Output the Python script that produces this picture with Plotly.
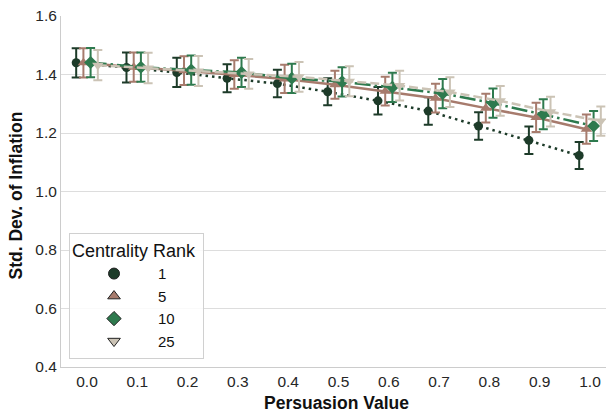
import plotly.graph_objects as go

persuasion = [0.0, 0.1, 0.2, 0.3, 0.4, 0.5, 0.6, 0.7, 0.8, 0.9, 1.0]
tick_labels = ["0.0", "0.1", "0.2", "0.3", "0.4", "0.5", "0.6", "0.7", "0.8", "0.9", "1.0"]
y_ticks = [0.4, 0.6, 0.8, 1.0, 1.2, 1.4, 1.6]
y_tick_labels = ["0.4", "0.6", "0.8", "1.0", "1.2", "1.4", "1.6"]

ranks = ["1", "5", "10", "25"]
rank1 = [1.440, 1.424, 1.407, 1.387, 1.369, 1.341, 1.310, 1.275, 1.224, 1.175, 1.123]
rank5 = [1.440, 1.425, 1.413, 1.400, 1.385, 1.365, 1.343, 1.319, 1.285, 1.253, 1.213]
rank10 = [1.441, 1.425, 1.415, 1.407, 1.387, 1.375, 1.356, 1.335, 1.302, 1.264, 1.224]
rank25 = [1.432, 1.422, 1.412, 1.402, 1.392, 1.377, 1.362, 1.340, 1.310, 1.273, 1.241]

err1 = [0.050, 0.051, 0.050, 0.048, 0.047, 0.046, 0.047, 0.047, 0.047, 0.047, 0.046]
err5 = [0.050, 0.050, 0.049, 0.049, 0.048, 0.048, 0.049, 0.049, 0.049, 0.050, 0.050]
err10 = [0.050, 0.050, 0.050, 0.050, 0.050, 0.050, 0.050, 0.050, 0.050, 0.051, 0.051]
err25 = [0.052, 0.052, 0.051, 0.051, 0.051, 0.051, 0.051, 0.051, 0.051, 0.051, 0.050]

series = [rank1, rank5, rank10, rank25]
errors = [err1, err5, err10, err25]
colors = ["#1d3b29", "#a77b6d", "#2e7a4e", "#cbc3b5"]
symbols = ["circle", "triangle-up", "diamond", "triangle-down"]
dashes = ["2.5px,4px", "solid", "16px,4px,2.5px,4px", "9px,4px"]
dodge = [-0.0215, -0.00715, 0.00715, 0.0215]
msize = [9, 10, 10, 10]

fig = go.Figure()
for i, name in enumerate(ranks):
    xs = [p + dodge[i] for p in persuasion]
    fig.add_trace(go.Scatter(
        x=xs, y=series[i], mode="lines+markers", name=name, showlegend=False,
        line=dict(color=colors[i], width=2.5, dash=dashes[i]),
        marker=dict(color=colors[i], size=msize[i], symbol=symbols[i], line=dict(width=0)),
        error_y=dict(type="data", array=errors[i], color=colors[i], thickness=2, width=4.5),
    ))
for i, name in enumerate(ranks):
    fig.add_trace(go.Scatter(
        x=[None], y=[None], mode="markers", name=name, showlegend=True,
        marker=dict(color=colors[i], size=11, symbol=symbols[i], line=dict(width=1, color="#222222")),
    ))

axis_font = dict(family="Liberation Sans, Arial, sans-serif", size=15.5, color="#262626")
title_font = dict(family="Liberation Sans, Arial, sans-serif", size=17.5, color="#111111")
legend_title_font = dict(family="Liberation Sans, Arial, sans-serif", size=18, color="#111111")
fig.update_layout(
    width=606, height=413,
    margin=dict(l=61, r=0, t=16, b=46, autoexpand=False),
    paper_bgcolor="white", plot_bgcolor="white",
    font=dict(family="Liberation Sans, Arial, sans-serif", color="#262626"),
    xaxis=dict(
        range=[-0.0517, 1.0318], tickmode="array", tickvals=persuasion, ticktext=tick_labels,
        showgrid=False, zeroline=False, showline=True, linecolor="#cccccc", linewidth=1,
        tickfont=axis_font, ticks="", automargin=False,
    ),
    yaxis=dict(
        range=[0.4, 1.6], tickmode="array", tickvals=y_ticks, ticktext=y_tick_labels,
        showgrid=True, gridcolor="#dddddd", gridwidth=1, zeroline=False,
        showline=True, linecolor="#cccccc", linewidth=1,
        tickfont=axis_font, ticks="", automargin=False,
    ),
    legend=dict(
        x=0.0147, y=0.023, xanchor="left", yanchor="bottom",
        bgcolor="rgba(255,255,255,0.85)", bordercolor="#d0d0d0", borderwidth=1,
        title=dict(text="Centrality Rank ", font=legend_title_font, side="top"),
        font=dict(size=15, color="#111111"), itemwidth=78, tracegroupgap=0,
    ),
    annotations=[
        dict(text="<b>Persuasion Value</b>", xref="paper", yref="paper", x=0.505, y=0,
             xanchor="center", yanchor="middle", yshift=-36, showarrow=False, font=title_font),
        dict(text="<b>Std. Dev. of Inflation</b>", xref="paper", yref="paper", x=0, y=0.5,
             xanchor="center", yanchor="middle", xshift=-46, yshift=-4, textangle=-90,
             showarrow=False, font=title_font),
    ],
)

fig.write_html(
    "out.html",
    config={"displayModeBar": False},
    post_script="document.body.style.margin='0px';document.documentElement.style.margin='0px';",
)
